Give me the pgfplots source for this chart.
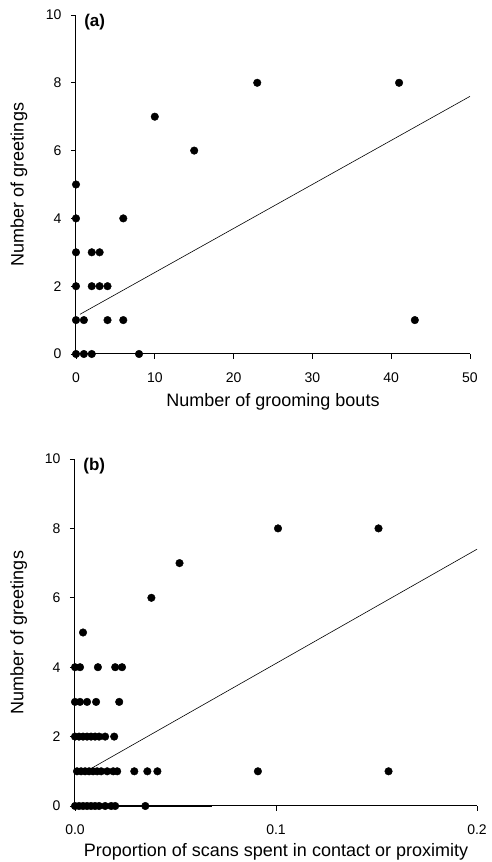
\documentclass[border=0pt]{standalone}
\usepackage{fontspec}
\setmainfont{Liberation Sans}
\usepackage{pgfplots}
\pgfplotsset{compat=1.18}

\pgfplotsset{
  grt/.style={
    scale only axis,
    axis x line*=bottom, axis y line*=left,
    ymin=0, ymax=10, ytick={0,2,...,10},
    tick align=outside, major tick length=5pt,
    tick style={black, line width=0.8pt},
    axis line style={line width=1pt},
    ticklabel style={font=\fontsize{14}{16}\selectfont},
    xticklabel style={yshift=-10pt},
    yticklabel style={xshift=-6pt},
    label style={font=\fontsize{18}{20}\selectfont},
    ylabel={Number of greetings},
    /pgf/number format/assume math mode=true,
    clip=false,
  },
  pts/.style={only marks, mark=*, mark size=3.8pt, black},
  fit/.style={no marks, black, line width=0.6pt},
}

\begin{document}
\begin{tikzpicture}
\useasboundingbox (-75pt,-56pt) rectangle (416pt,806pt);

% (a) greetings vs grooming bouts
\begin{axis}[grt, at={(1pt,452pt)},
  width=394pt, height=339pt,
  xmin=0, xmax=50, xtick={0,10,...,50},
  xlabel={Number of grooming bouts},
  xlabel style={at={(axis description cs:0.5,0)}, yshift=-48pt, anchor=center},
  ylabel style={at={(axis description cs:-0.145,0.5)}, anchor=center}]
\addplot[pts] coordinates {
 (0,0) (1,0) (2,0) (8,0)
 (0,1) (1,1) (4,1) (6,1) (43,1)
 (0,2) (2,2) (3,2) (4,2)
 (0,3) (2,3) (3,3)
 (0,4) (6,4)
 (0,5)
 (15,6)
 (10,7)
 (23,8) (41,8)};
\addplot[fit] coordinates {(0.5,1.17) (50,7.6)};
\node[anchor=west, font=\bfseries\fontsize{17}{19}\selectfont] at (rel axis cs:0.012,0.98) {(a)};
\end{axis}

% (b) greetings vs proportion of scans
\begin{axis}[grt, at={(0pt,0pt)},
  width=402pt, height=347pt,
  xmin=0, xmax=0.2, xtick={0,0.1,0.2},
  xticklabels={0.0,0.1,0.2},
  xlabel={Proportion of scans spent in contact or proximity},
  xlabel style={at={(axis description cs:0.5,0)}, yshift=-46pt, anchor=center},
  ylabel style={at={(axis description cs:-0.14,0.5)}, anchor=center}]
\addplot[fit, line width=1.6pt] coordinates {(0,0) (0.068,0)};
\addplot[fit, densely dotted, line width=1pt] coordinates {(0.068,0) (0.085,0)};
\addplot[pts] coordinates {
 (0,0) (0.002,0) (0.004,0) (0.006,0) (0.008,0) (0.010,0) (0.012,0) (0.015,0) (0.018,0) (0.020,0) (0.035,0)
 (0.001,1) (0.003,1) (0.005,1) (0.007,1) (0.009,1) (0.011,1) (0.013,1) (0.016,1) (0.019,1) (0.021,1)
 (0.0295,1) (0.036,1) (0.041,1) (0.091,1) (0.156,1)
 (0,2) (0.002,2) (0.004,2) (0.006,2) (0.008,2) (0.010,2) (0.012,2) (0.015,2) (0.0195,2)
 (0,3) (0.0025,3) (0.006,3) (0.0105,3) (0.022,3)
 (0,4) (0.0025,4) (0.0114,4) (0.020,4) (0.0234,4)
 (0.004,5)
 (0.038,6)
 (0.052,7)
 (0.101,8) (0.151,8)};
\addplot[fit] coordinates {(0.008,1.08) (0.2,7.4)};
\node[anchor=west, font=\bfseries\fontsize{17}{19}\selectfont] at (rel axis cs:0.012,0.98) {(b)};
\end{axis}
\end{tikzpicture}
\end{document}
